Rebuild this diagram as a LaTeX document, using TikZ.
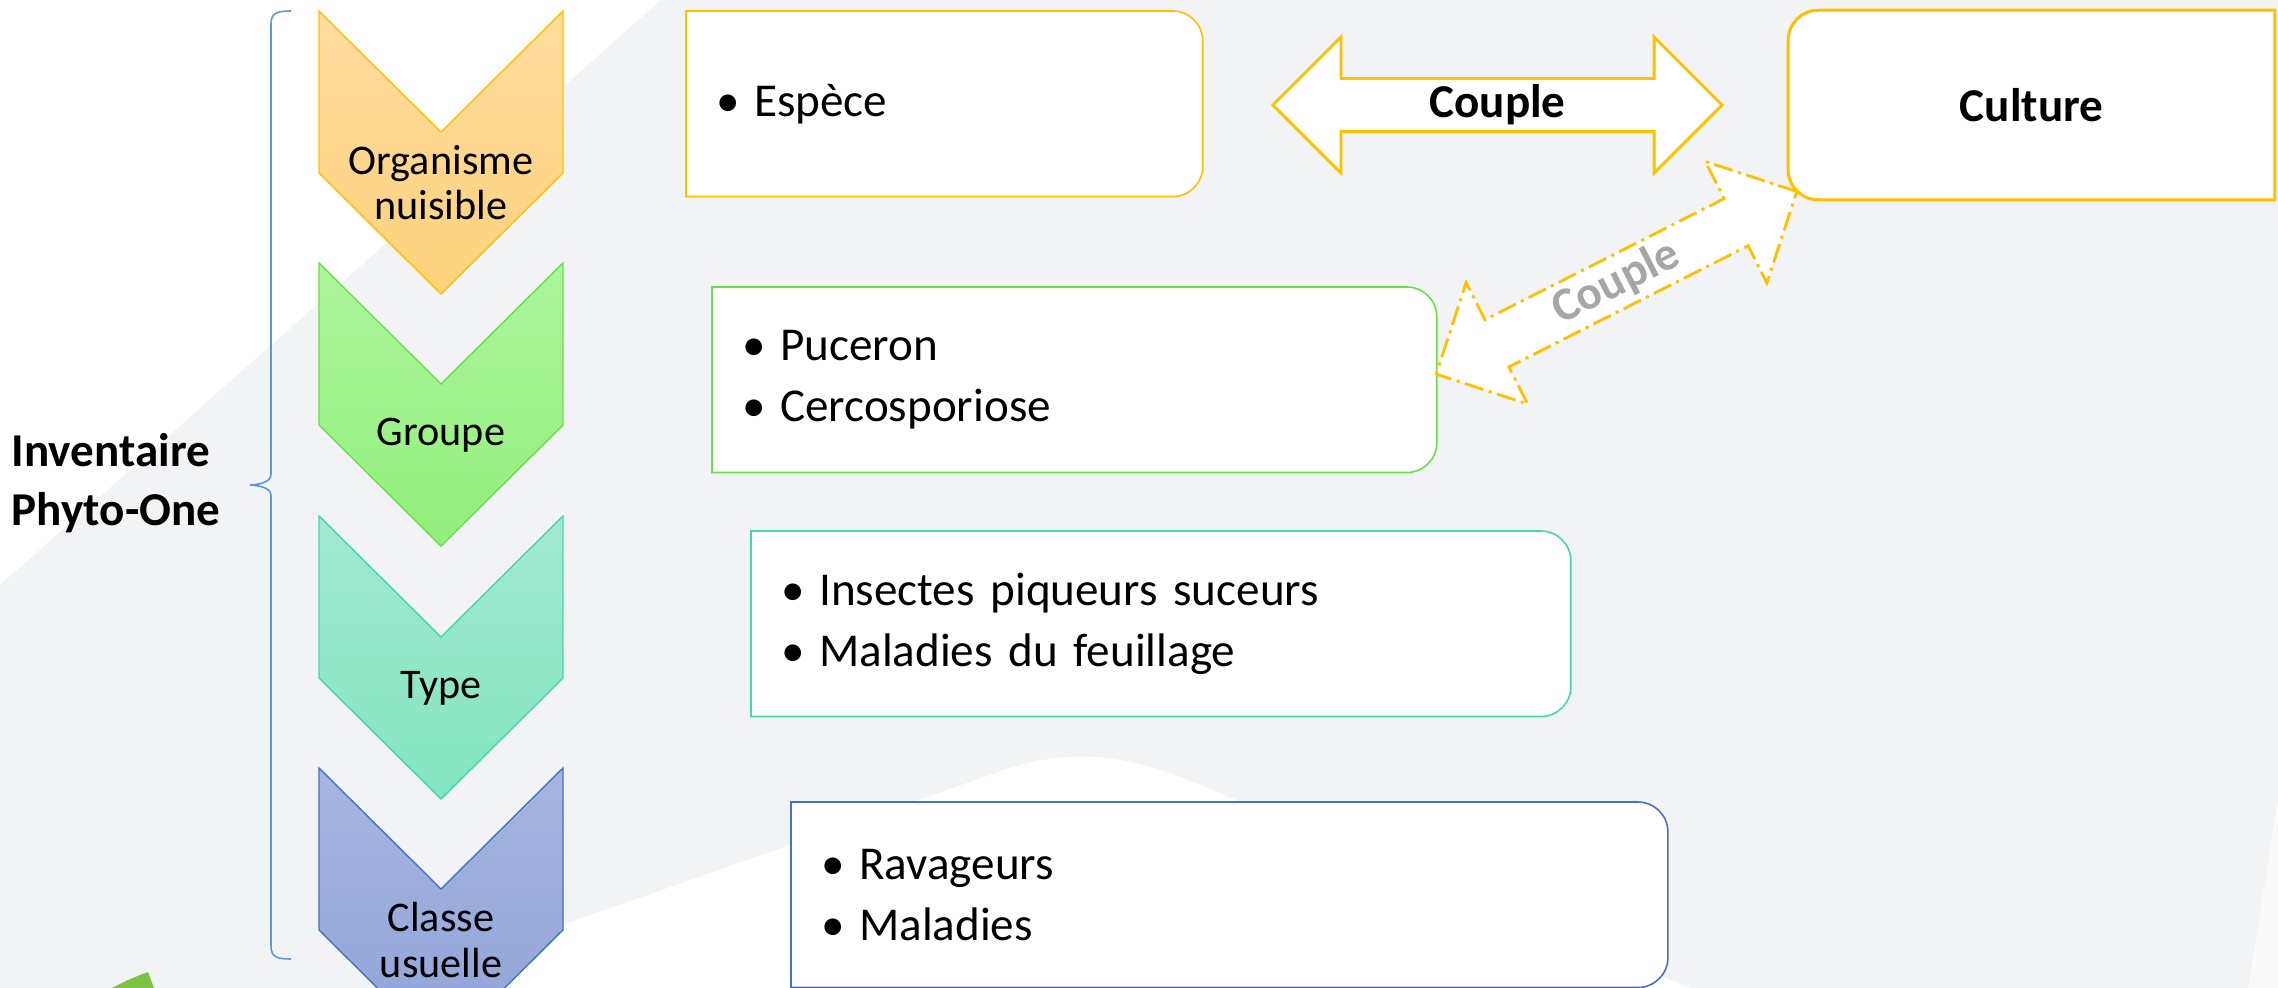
\documentclass[tikz,border=0pt]{standalone}
\usepackage{fontspec}
\setmainfont{Carlito}
\usetikzlibrary{shapes.arrows,positioning,calc}
\definecolor{bg}{HTML}{F2F3F5}
\definecolor{leaf}{HTML}{7DC242}
\definecolor{gry}{HTML}{A6A6A6}
\definecolor{braceblue}{HTML}{5B9BD5}
\definecolor{org}{HTML}{FFC000}
\definecolor{orgT}{HTML}{FFDCA0}
\definecolor{orgB}{HTML}{FED27B}
\definecolor{grn}{HTML}{6ADF48}
\definecolor{grnT}{HTML}{ACF59C}
\definecolor{grnB}{HTML}{92F07C}
\definecolor{tea}{HTML}{45D8A8}
\definecolor{teaT}{HTML}{A2E9D1}
\definecolor{teaB}{HTML}{83E5C1}
\definecolor{blu}{HTML}{4472C4}
\definecolor{bluT}{HTML}{A7B5DF}
\definecolor{bluB}{HTML}{8FA4D7}
\pgfdeclarelayer{back}
\pgfdeclarelayer{frame}
\pgfsetlayers{back,frame,main}
\newcommand{\puce}{\textbullet\hspace{1.4mm}}

\begin{document}
\begin{tikzpicture}[x=0.01cm,y=-0.01cm,
      chv/.style={line width=0.4pt},
      chtxt/.style={font=\fontsize{12}{12.8}\selectfont,align=center,inner sep=0pt},
      item/.style={anchor=north west,inner xsep=3mm,inner ysep=0pt,
                   minimum height=1.84cm,align=left,
                   font=\fontsize{13.4}{17.4}\selectfont},
      frm/.style={fill=white,line width=0.45pt},
      dbl/.style={double arrow,double arrow head extend=0.34cm,
                  double arrow head indent=0pt,minimum width=1.36cm,inner sep=0pt,
                  fill=white,draw=org,line width=0.8pt,
                  font=\fontsize{13.4}{16}\selectfont\bfseries},
      brc/.style={draw=braceblue,line width=0.45pt}]
    \useasboundingbox (0,0) rectangle (2278,988);
    % background
    \begin{pgfonlayer}{back}
      \fill[bg] (0,0) rectangle (2278,988);
      \fill[white] (0,0) -- (661,0) -- (0,585) -- cycle;
      \fill[white] (382,988) -- (990,775) .. controls (1060,748) and (1120,750) .. (1200,785)
        -- (1690,988) -- cycle;
      \fill[white!60!bg] (2278,800) -- (2248,988) -- (2278,988) -- cycle;
      \fill[leaf] (112,988) .. controls (125,981) and (137,976) .. (148,972) -- (154,988) -- cycle;
    \end{pgfonlayer}
    % chevrons
    \foreach \ty/\col/\txt [count=\i] in {11/org/{Organisme\\nuisible},263/grn/Groupe,
        516/tea/Type,768/blu/{Classe\\usuelle}}{
      \draw[chv,draw=\col,top color=\col T,bottom color=\col B]
        (319,\ty) -- (441,\ty+121) -- (563,\ty) -- (563,\ty+162)
        -- (441,\ty+283) -- (319,\ty+162) -- cycle;
      \node[chtxt] (ch\i) at (441,\ty+172) {\txt};
    }
    % brace
    \coordinate (btop) at (291,11);
    \coordinate (btip) at (250,485);
    \coordinate (bbot) at (291,959);
    \draw[brc] (btop) .. controls (277,11) and (271,13) .. (271,24) -- (271,474)
      .. controls (271,481) and (264,484) .. (btip)
      .. controls (264,486) and (271,489) .. (271,496) -- (271,946)
      .. controls (271,957) and (277,959) .. (bbot);
    \node[anchor=west,align=left,inner sep=0pt,
          font=\fontsize{13.4}{16.8}\selectfont\bfseries] (inv) at (11,483)
      {Inventaire\\Phyto-One};
    % boxes
    \node[item,text width=4.55cm] (esp) at (686,11) {\puce Espèce};
    \node[item,text width=6.63cm] (grp) at (712,287) {\puce Puceron\\\puce Cercosporiose};
    \node[item,text width=7.58cm] (typ) at (751,531)
      {\puce Insectes piqueurs suceurs\\\puce Maladies du feuillage};
    \node[item,text width=8.15cm] (cls) at (791,802) {\puce Ravageurs\\\puce Maladies};
    \node[minimum width=4.85cm,minimum height=1.88cm,inner sep=0pt,
          font=\fontsize{13.4}{16}\selectfont\bfseries] (cult) at (2031.5,105) {Culture};
    \begin{pgfonlayer}{frame}
      \foreach \b/\col in {esp/org,grp/grn,typ/tea,cls/blu}{
        \draw[frm,draw=\col] (\b.south west) -- (\b.north west) -- ([xshift=-3mm]\b.north east)
          arc[start angle=90,end angle=0,radius=3mm] -- ([yshift=3mm]\b.south east)
          arc[start angle=0,end angle=-90,radius=3mm] -- cycle;
      }
      \draw[frm,draw=org,line width=0.85pt] (cult.north east) -- ([xshift=3mm]cult.north west)
        arc[start angle=90,end angle=180,radius=3mm] -- ([yshift=3mm]cult.south west)
        arc[start angle=180,end angle=270,radius=3mm] -- (cult.south east) -- cycle;
    \end{pgfonlayer}
    % couple arrows
    \node[dbl,minimum height=4.49cm] (cpl) at (1497.5,105) {Couple};
    \path ([yshift=0.06cm]grp.east) -- ([shift={(0.08cm,0.08cm)}]cult.south west)
      node[dbl,midway,sloped,minimum height=4.04cm,text=gry,
           dash pattern=on 5.5pt off 1.6pt on 0.9pt off 1.6pt] (cpl2) {Couple};
  \end{tikzpicture}
\end{document}
